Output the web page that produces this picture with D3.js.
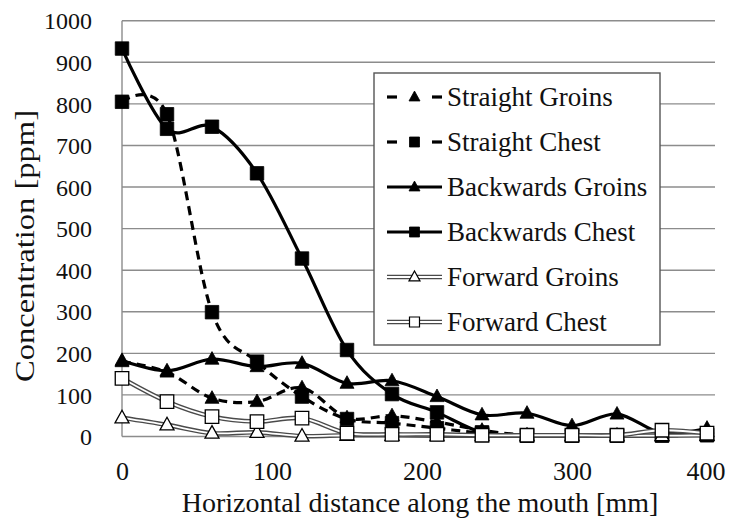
<!DOCTYPE html>
<html>
<head>
<meta charset="utf-8">
<script src="https://cdn.jsdelivr.net/npm/d3@7"></script>
<style>
  html, body { margin: 0; padding: 0; background: #fff; }
  svg { display: block; }
  svg text { font-family: "Liberation Serif", "Times New Roman", Tinos, "DejaVu Serif", serif; }
</style>
</head>
<body>
<svg id="chart" width="732" height="525"></svg>
<script>
// Measurement positions along the mouth [mm]
const distances = [0, 30, 60, 90, 120, 150, 180, 210, 240, 270, 300, 330, 360, 390];

// Concentration readings [ppm] for each posture / sampling point
const straightGroins   = [180, 155, 92, 84, 117, 45, 50, 35, 15, 3, 2, 2, 2, 3];
const straightChest    = [805, 775, 299, 180, 96, 42, 32, 20, 8, 2, 2, 2, 2, 4];
const backwardsGroins  = [183, 158, 186, 168, 176, 128, 134, 96, 52, 56, 26, 54, 8, 20];
const backwardsChest   = [933, 740, 745, 633, 428, 208, 102, 58, 10, 3, 3, 3, 3, 3];
const forwardGroins    = [45, 28, 8, 10, 1, 3, 3, 2, 2, 2, 2, 2, 2, 3];
const forwardChest     = [140, 84, 48, 36, 44, 8, 5, 5, 3, 3, 3, 3, 15, 8];

const seriesNames = ["Straight Groins", "Straight Chest", "Backwards Groins",
                     "Backwards Chest", "Forward Groins", "Forward Chest"];

const xTicks = [0, 100, 200, 300, 400];
const yTicks = [0, 100, 200, 300, 400, 500, 600, 700, 800, 900, 1000];

const seriesList = [
  { name: seriesNames[0], values: straightGroins,  line: "dashed", marker: "triangle", fill: "#000" },
  { name: seriesNames[1], values: straightChest,   line: "dashed", marker: "square",   fill: "#000" },
  { name: seriesNames[2], values: backwardsGroins, line: "solid",  marker: "triangle", fill: "#000" },
  { name: seriesNames[3], values: backwardsChest,  line: "solid",  marker: "square",   fill: "#000" },
  { name: seriesNames[4], values: forwardGroins,   line: "double", marker: "triangle", fill: "#fff" },
  { name: seriesNames[5], values: forwardChest,    line: "double", marker: "square",   fill: "#fff" }
];

const FONT = '"Liberation Serif", "Times New Roman", Tinos, "DejaVu Serif", serif';
const svg = d3.select("#chart");

const plot = { left: 122, right: 715, top: 20.7, bottom: 436.5 };
const x = d3.scaleLinear().domain([0, 400]).range([122, 722]);
const y = d3.scaleLinear().domain([0, 1000]).range([plot.bottom, plot.top]);

// Horizontal gridlines
svg.append("g").selectAll("line").data(yTicks).join("line")
  .attr("x1", plot.left).attr("x2", plot.right)
  .attr("y1", d => y(d)).attr("y2", d => y(d))
  .attr("stroke", "#8c8c8c").attr("stroke-width", 1.4);

// Vertical axis line
svg.append("line")
  .attr("x1", plot.left).attr("x2", plot.left)
  .attr("y1", plot.top).attr("y2", plot.bottom)
  .attr("stroke", "#8c8c8c").attr("stroke-width", 1.4);

// Y axis labels
const yAxis = d3.axisLeft(y).tickValues(yTicks).tickFormat(d3.format("d"))
  .tickSize(0).tickPadding(0);
const yG = svg.append("g").attr("transform", "translate(92,0)").call(yAxis)
  .attr("font-family", FONT).attr("font-size", 24);
yG.select(".domain").remove();
yG.selectAll("text").attr("fill", "#111").attr("dy", "0.34em");

// X axis labels
const xAxis = d3.axisBottom(x).tickValues(xTicks).tickFormat(d3.format("d"))
  .tickSize(0).tickPadding(0);
const xG = svg.append("g").attr("transform", "translate(0,460)").call(xAxis)
  .attr("font-family", FONT).attr("font-size", 26);
xG.select(".domain").remove();
xG.selectAll("text").attr("fill", "#111").attr("dy", "0.75em");
// keep the last label inside the chart area
xG.selectAll("text").filter(d => d === 400).attr("text-anchor", "end").attr("dx", 3);

// Axis titles
svg.append("text")
  .attr("x", 420).attr("y", 512)
  .attr("text-anchor", "middle").attr("font-size", 28).attr("fill", "#111")
  .attr("font-family", FONT)
  .text("Horizontal distance along the mouth [mm]");

svg.append("text")
  .attr("transform", "translate(34,246) rotate(-90)")
  .attr("text-anchor", "middle").attr("font-size", 28).attr("fill", "#111")
  .attr("font-family", FONT)
  .attr("textLength", 272).attr("lengthAdjust", "spacingAndGlyphs")
  .text("Concentration [ppm]");

// Marker shapes
function markerPath(type, s) {
  if (type === "square") {
    const h = s / 2;
    return `M${-h},${-h}H${h}V${h}H${-h}Z`;
  }
  const w = s / 2, ht = s * 0.9;
  return `M0,${-ht * 0.6}L${w},${ht * 0.4}L${-w},${ht * 0.4}Z`;
}

function drawLine(g, d, pathData) {
  if (d.line === "double") {
    g.append("path").attr("d", pathData).attr("fill", "none")
      .attr("stroke", "#4a4a4a").attr("stroke-width", 4.6);
    g.append("path").attr("d", pathData).attr("fill", "none")
      .attr("stroke", "#fff").attr("stroke-width", 1.8);
  } else {
    g.append("path").attr("d", pathData).attr("fill", "none")
      .attr("stroke", "#000").attr("stroke-width", 3.2)
      .attr("stroke-dasharray", d.line === "dashed" ? "9,6" : null);
  }
}

const lineGen = d3.line()
  .x((v, i) => x(distances[i]))
  .y(v => y(v))
  .curve(d3.curveCardinal.tension(0));

// Series: line then markers, one series after another
seriesList.forEach(s => {
  const g = svg.append("g");
  drawLine(g, s, lineGen(s.values));
  g.selectAll("path.mk").data(s.values).join("path")
    .attr("class", "mk")
    .attr("transform", (v, i) => `translate(${x(distances[i])},${y(v)})`)
    .attr("d", markerPath(s.marker, s.marker === "square" ? 13.5 : 14))
    .attr("fill", s.fill)
    .attr("stroke", "#000").attr("stroke-width", s.fill === "#fff" ? 1.3 : 0.8);
});

// Legend
const legend = svg.append("g");
legend.append("rect")
  .attr("x", 374).attr("y", 73).attr("width", 286).attr("height", 272)
  .attr("fill", "#fff").attr("stroke", "#555").attr("stroke-width", 1.4);

seriesList.forEach((s, i) => {
  const cy = 97 + i * 45;
  const g = legend.append("g");
  const x0 = 387, x1 = 442;
  if (s.line === "dashed") {
    g.append("line").attr("x1", x0).attr("x2", x0 + 10).attr("y1", cy).attr("y2", cy)
      .attr("stroke", "#000").attr("stroke-width", 3.2);
    g.append("line").attr("x1", x1 - 10).attr("x2", x1).attr("y1", cy).attr("y2", cy)
      .attr("stroke", "#000").attr("stroke-width", 3.2);
  } else {
    drawLine(g, s, `M${x0},${cy}H${x1}`);
  }
  g.append("path")
    .attr("transform", `translate(${(x0 + x1) / 2},${cy})`)
    .attr("d", markerPath(s.marker, s.marker === "square" ? 10 : 11))
    .attr("fill", s.fill).attr("stroke", "#000")
    .attr("stroke-width", s.fill === "#fff" ? 1.2 : 0.8);
  g.append("text")
    .attr("x", 447).attr("y", cy).attr("dy", "0.35em")
    .attr("font-size", 27).attr("fill", "#111").attr("font-family", FONT)
    .text(s.name);
});
</script>
</body>
</html>
